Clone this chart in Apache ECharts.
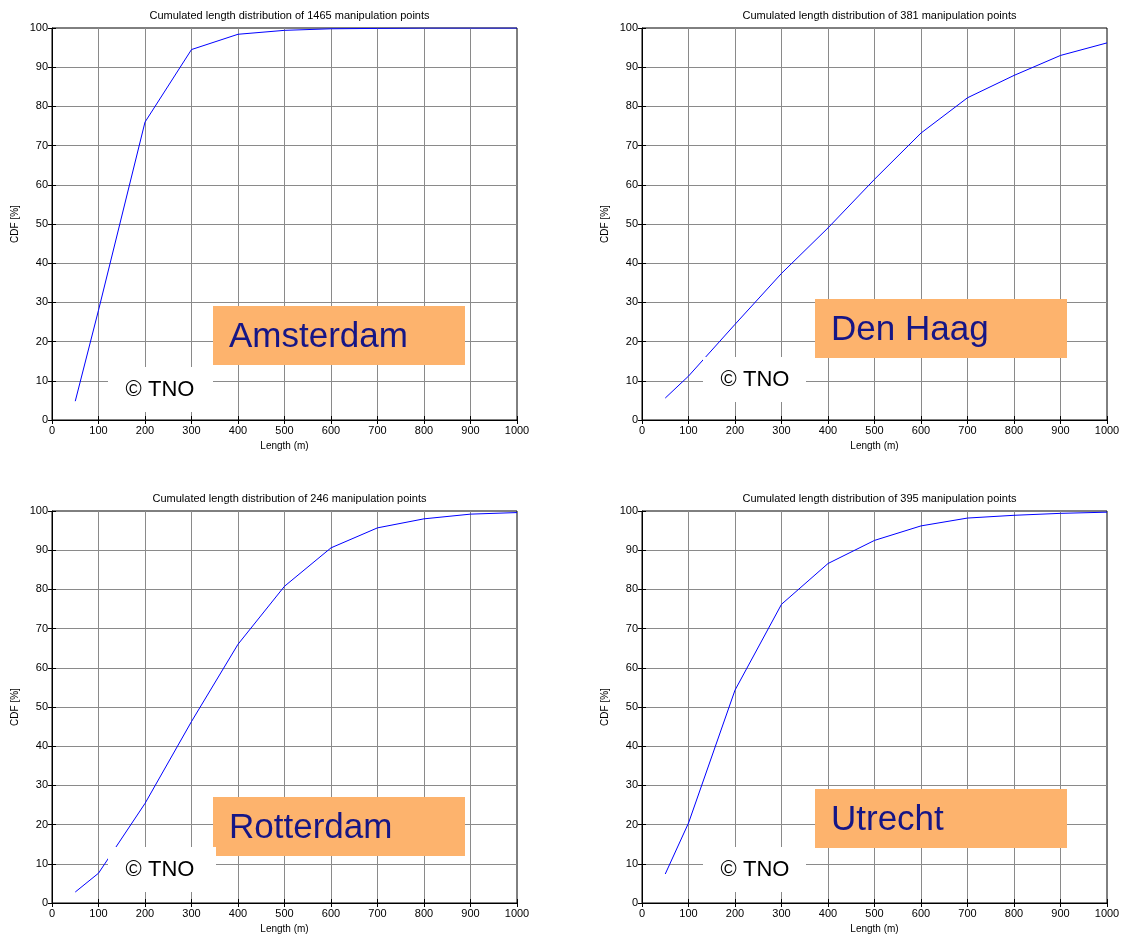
<!DOCTYPE html>
<html>
<head>
<meta charset="utf-8">
<script src="https://cdn.jsdelivr.net/npm/echarts@6/dist/echarts.min.js"></script>
<style>
  html, body { margin: 0; padding: 0; background: #fff; }
  #chart { width: 1125px; height: 938px; }
</style>
</head>
<body>
<div id="chart"></div>
<script>
// lengths (m) where the CDF was sampled
const lengths = [50, 100, 200, 300, 400, 500, 600, 700, 800, 900, 1000];

// CDF [%] per city
const amsterdam = [4.8, 28, 76, 94.5, 98.4, 99.4, 99.8, 99.9, 100, 100, 100];
const denHaag = [5.6, 11.2, 24.4, 37.4, 49, 61.4, 73.2, 82.2, 87.9, 93, 96.2];
const rotterdam = [2.8, 7.6, 25.4, 46.3, 66, 80.8, 90.6, 95.7, 98, 99.2, 99.6];
const utrecht = [7.4, 20.4, 54.3, 76.2, 86.6, 92.5, 96.2, 98.2, 98.9, 99.4, 99.7];

const cities = ["Amsterdam", "Den Haag", "Rotterdam", "Utrecht"];
const pointCounts = [1465, 381, 246, 395];
const cdfs = [amsterdam, denHaag, rotterdam, utrecht];

// axis ranges
const xMin = 0, xMax = 1000, xStep = 100;
const yMin = 0, yMax = 100, yStep = 10;

const FONT = '"Liberation Sans", Arial, sans-serif';

// panel layout
const gridLeft = [52, 642, 52, 642];
const gridTop = [28, 28, 511, 511];
const gridW = 465;
const gridH = 392;

// orange name boxes and white copyright boxes
const nameBoxes = [[213, 306], [815, 299], [213, 797], [815, 789]];
const tnoBoxes = [[108, 367, 105, 45], [703, 357, 103, 45], [108, 847, 108, 45], [703, 847, 103, 45]];

const chart = echarts.init(document.getElementById("chart"));

const grids = [], xAxes = [], yAxes = [], series = [], titles = [], graphics = [];

cities.forEach((city, i) => {
  grids.push({
    left: gridLeft[i], top: gridTop[i], width: gridW, height: gridH,
    show: true, borderColor: "#000", borderWidth: 1, backgroundColor: "#fff",
  });

  titles.push({
    text: "Cumulated length distribution of " + pointCounts[i] + " manipulation points",
    left: gridLeft[i] + gridW / 2,
    top: gridTop[i] - 23,
    textAlign: "center",
    textStyle: { fontSize: 11, fontWeight: "normal", color: "#000", fontFamily: FONT },
  });

  // main axes: labels, grid lines
  xAxes.push({
    gridIndex: i, type: "value", min: xMin, max: xMax, interval: xStep,
    name: "Length (m)", nameLocation: "middle", nameGap: 21,
    nameTextStyle: { fontSize: 10, color: "#000", fontFamily: FONT },
    axisLine: { show: true, onZero: false, lineStyle: { color: "#000", width: 1 } },
    axisTick: { show: true, inside: true, length: 4, lineStyle: { color: "#000" } },
    axisLabel: { fontSize: 11, color: "#000", margin: 5, fontFamily: FONT, formatter: (v) => String(v) },
    splitLine: { show: true, showMinLine: false, showMaxLine: false, lineStyle: { color: "#8a8a8a", width: 1 } },
  });
  yAxes.push({
    gridIndex: i, type: "value", min: yMin, max: yMax, interval: yStep,
    name: "CDF [%]", nameLocation: "middle", nameGap: 32,
    nameTextStyle: { fontSize: 10, color: "#000", fontFamily: FONT },
    axisLine: { show: true, onZero: false, lineStyle: { color: "#000", width: 1 } },
    axisTick: { show: true, inside: true, length: 4, lineStyle: { color: "#000" } },
    axisLabel: { fontSize: 11, color: "#000", margin: 4, fontFamily: FONT },
    splitLine: { show: true, showMinLine: false, showMaxLine: false, lineStyle: { color: "#8a8a8a", width: 1 } },
  });

  series.push({
    type: "line",
    xAxisIndex: i, yAxisIndex: i,
    data: lengths.map((len, k) => [len, cdfs[i][k]]),
    showSymbol: false,
    lineStyle: { color: "#0000ff", width: 1 },
    itemStyle: { color: "#0000ff" },
    animation: false,
  });

  const [bx, by] = nameBoxes[i];
  graphics.push({
    type: "rect", z: 100,
    shape: { x: bx, y: by, width: 252, height: 59 },
    style: { fill: "#fdb36d" },
  });
  graphics.push({
    type: "text", z: 101, x: bx + 16, y: by + 31,
    style: { text: city, fill: "#161686", font: "35px " + FONT, verticalAlign: "middle" },
  });

  const [tx, ty, tw, th] = tnoBoxes[i];
  graphics.push({
    type: "rect", z: 102,
    shape: { x: tx, y: ty, width: tw, height: th },
    style: { fill: "#fff" },
  });
  graphics.push({
    type: "text", z: 103, x: tx + 52, y: ty + 23,
    style: { text: "© TNO", fill: "#000", font: "22px " + FONT, align: "center", verticalAlign: "middle" },
  });
});

// mirrored axes for the inward ticks on top and right
cities.forEach((city, i) => {
  xAxes.push({
    gridIndex: i, type: "value", position: "top", min: xMin, max: xMax, interval: xStep,
    axisLine: { show: false },
    axisTick: { show: true, inside: true, length: 4, lineStyle: { color: "#000" } },
    axisLabel: { show: false }, splitLine: { show: false },
  });
  yAxes.push({
    gridIndex: i, type: "value", position: "right", min: yMin, max: yMax, interval: yStep,
    axisLine: { show: false },
    axisTick: { show: true, inside: true, length: 4, lineStyle: { color: "#000" } },
    axisLabel: { show: false }, splitLine: { show: false },
  });
});

chart.setOption({
  animation: false,
  backgroundColor: "#fff",
  title: titles,
  grid: grids,
  xAxis: xAxes,
  yAxis: yAxes,
  series: series,
  graphic: graphics,
});
</script>
</body>
</html>
